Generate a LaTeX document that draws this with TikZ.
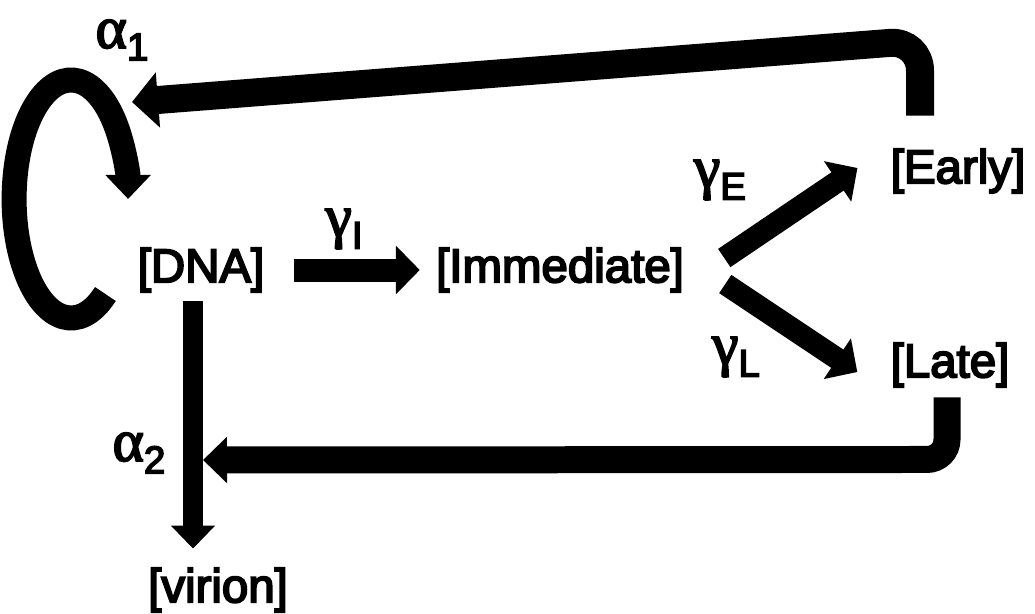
\documentclass[tikz,border=0pt]{standalone}
\usepackage{fontspec}
\setmainfont{Liberation Sans}[FakeBold=4]
\newfontfamily\gkfont{Liberation Serif}[FakeBold=3]
\usetikzlibrary{arrows.meta,calc}
\newcommand{\rate}[2]{{\fontsize{34}{34}\gkfont #1}\raisebox{-7pt}{\fontsize{22}{22}\selectfont #2}}

\begin{document}
\begin{tikzpicture}[x=0.02cm,y=0.02cm,
 species/.style={font=\fontsize{27}{32}\selectfont,inner sep=0},
 ratelbl/.style={inner sep=0},
 flow/.style={line width=0.5cm,-{Triangle[width=0.95cm,length=0.48cm]}}]
\useasboundingbox (0,0) rectangle (1035,-613);
\node[species] (dna) at (201,-270) {[DNA]};
\node[species] (imm) at (560,-270) {[Immediate]};
\node[species] (early) at (958,-171) {[Early]};
\node[species] (late) at (950,-365) {[Late]};
\node[species] (virion) at (218,-590) {[virion]};
\coordinate (loopin) at (132,-102);
\coordinate (joint) at (203,-460);
% rates
\node[ratelbl] (a1) at (122,-40) {\rate{α}{1}};
\node[ratelbl] (a2) at (139,-453) {\rate{α}{2}};
\node[ratelbl] (gi) at (344,-229) {\rate{γ}{I}};
\node[ratelbl] (ge) at (720,-180) {\rate{γ}{E}};
\node[ratelbl] (gl) at (736,-357) {\rate{γ}{L}};
% transcription cascade
\draw[flow,line width=0.46cm,shorten <=0.58cm,shorten >=0.32cm] (dna) -- (imm);
\draw[flow,line width=0.44cm] ($(imm.east)+(40,12)$) -- ($(early.west)+(-33,3)$);
\draw[flow,line width=0.44cm] ($(imm.east)+(41,-14)$) -- ($(late.west)+(-33,-7)$);
% replication and packaging
\draw[flow,line width=0.5cm,-{Triangle[width=0.88cm,length=0.48cm]}] ($(dna.west)+(-32,-24)$) arc[start angle=-53,end angle=-360,x radius=1.14cm,y radius=2.38cm];
\draw[flow,line width=0.42cm,-{Triangle[width=0.86cm,length=0.46cm]}] ($(dna.south)+(-8,-9)$) -- ($(virion.north)+(-25,19)$);
% feedback
\draw[flow,line width=0.56cm,-{Triangle[width=1.08cm,length=0.52cm]},rounded corners=0.6cm] ($(early.north)+(-38,33)$) -- ($(early.north)+(-38,108)$) -- (loopin);
\draw[flow,line width=0.54cm,-{Triangle[width=0.9cm,length=0.48cm]},rounded corners=0.4cm] ($(late.south)+(-3,-10)$) -- ($(late.south)+(-3,-72)$) -- (joint);
\end{tikzpicture}
\end{document}
